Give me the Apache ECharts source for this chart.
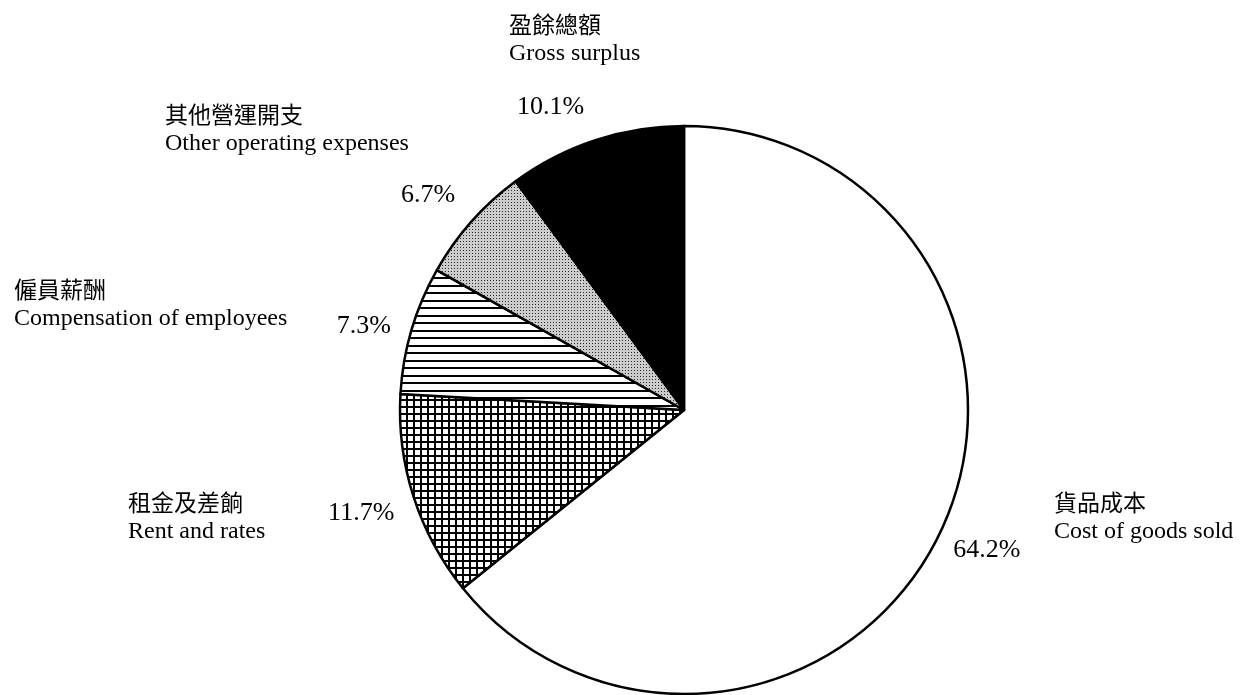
<!DOCTYPE html>
<html>
<head>
<meta charset="utf-8">
<script src="https://cdn.jsdelivr.net/npm/echarts@6/dist/echarts.min.js"></script>
<style>
html,body{margin:0;padding:0;background:#fff;}
#chart{width:1240px;height:695px;}
</style>
</head>
<body>
<div id="chart"></div>
<script>
// ---- data ----
const categoriesZh = ['貨品成本', '租金及差餉', '僱員薪酬', '其他營運開支', '盈餘總額'];
const categoriesEn = ['Cost of goods sold', 'Rent and rates', 'Compensation of employees', 'Other operating expenses', 'Gross surplus'];
const shares = [64.2, 11.7, 7.3, 6.7, 10.1];

// ---- layout (label placement, not data) ----
const namePos = [[1054, 487], [128, 487], [14, 274], [165, 99], [509, 9]];
const pctShift = [[-2, -6], [-1, 0], [4, 11], [-3, 9], [-28, 18]];
const serif = "'Liberation Serif', 'Times New Roman', serif";
const cjk = "'Noto Sans CJK TC', 'Noto Sans CJK SC', sans-serif";

function makePattern(kind) {
  const c = document.createElement('canvas');
  const g = c.getContext('2d');
  if (kind === 'grid') {
    c.width = 7; c.height = 7;
    g.fillStyle = '#fff'; g.fillRect(0, 0, 7, 7);
    g.fillStyle = '#000';
    g.fillRect(0, 0, 7, 2);
    g.fillRect(0, 0, 2, 7);
  } else if (kind === 'hlines') {
    c.width = 8; c.height = 15;
    g.fillStyle = '#fff'; g.fillRect(0, 0, 8, 15);
    g.fillStyle = '#000';
    g.fillRect(0, 0, 8, 2);
    g.fillRect(0, 7, 8, 2);
  } else if (kind === 'dots') {
    c.width = 3; c.height = 3;
    g.fillStyle = '#cccccc'; g.fillRect(0, 0, 3, 3);
    g.fillStyle = '#2a2a2a';
    g.fillRect(1, 1, 1, 1);
  }
  return { image: c, repeat: 'repeat' };
}

const fills = ['#ffffff', makePattern('grid'), makePattern('hlines'), makePattern('dots'), '#000000'];

const chart = echarts.init(document.getElementById('chart'), null, { renderer: 'canvas' });

const option = {
  animation: false,
  backgroundColor: '#fff',
  series: [
    {
      type: 'pie',
      center: [684, 410],
      radius: 284,
      startAngle: 90,
      clockwise: true,
      silent: true,
      emphasis: { disabled: true },
      label: { show: false },
      labelLine: { show: false },
      itemStyle: { borderColor: '#000', borderWidth: 2.5 },
      data: shares.map((v, i) => ({ name: categoriesEn[i], value: v, itemStyle: { color: fills[i] } }))
    },
    {
      type: 'pie',
      center: [684, 410],
      radius: [0, 670],
      startAngle: 90,
      clockwise: true,
      silent: true,
      emphasis: { disabled: true },
      itemStyle: { color: 'rgba(0,0,0,0)', borderWidth: 0 },
      labelLine: { show: false },
      label: {
        show: true,
        position: 'inside',
        color: '#000',
        fontFamily: serif,
        fontSize: 26,
        formatter: p => p.value.toFixed(1) + '%'
      },
      labelLayout: p => ({ dx: pctShift[p.dataIndex][0], dy: pctShift[p.dataIndex][1] }),
      data: shares.map((v, i) => ({ name: categoriesEn[i], value: v }))
    },
    {
      type: 'pie',
      center: [684, 410],
      radius: [0, 2],
      startAngle: 90,
      clockwise: true,
      silent: true,
      emphasis: { disabled: true },
      itemStyle: { color: 'rgba(0,0,0,0)', borderWidth: 0 },
      labelLine: { show: false },
      label: {
        show: true,
        position: 'inside',
        color: '#000',
        formatter: p => '{zh|' + categoriesZh[p.dataIndex] + '}\n{en|' + categoriesEn[p.dataIndex] + '}',
        rich: {
          zh: { fontFamily: cjk, fontSize: 23, lineHeight: 30, color: '#000', align: 'left' },
          en: { fontFamily: serif, fontSize: 24, lineHeight: 30, color: '#000', align: 'left' }
        }
      },
      labelLayout: p => ({ x: namePos[p.dataIndex][0], y: namePos[p.dataIndex][1], align: 'left', verticalAlign: 'top' }),
      data: shares.map((v, i) => ({ name: categoriesEn[i], value: v }))
    }
  ]
};

chart.setOption(option);
</script>
</body>
</html>
